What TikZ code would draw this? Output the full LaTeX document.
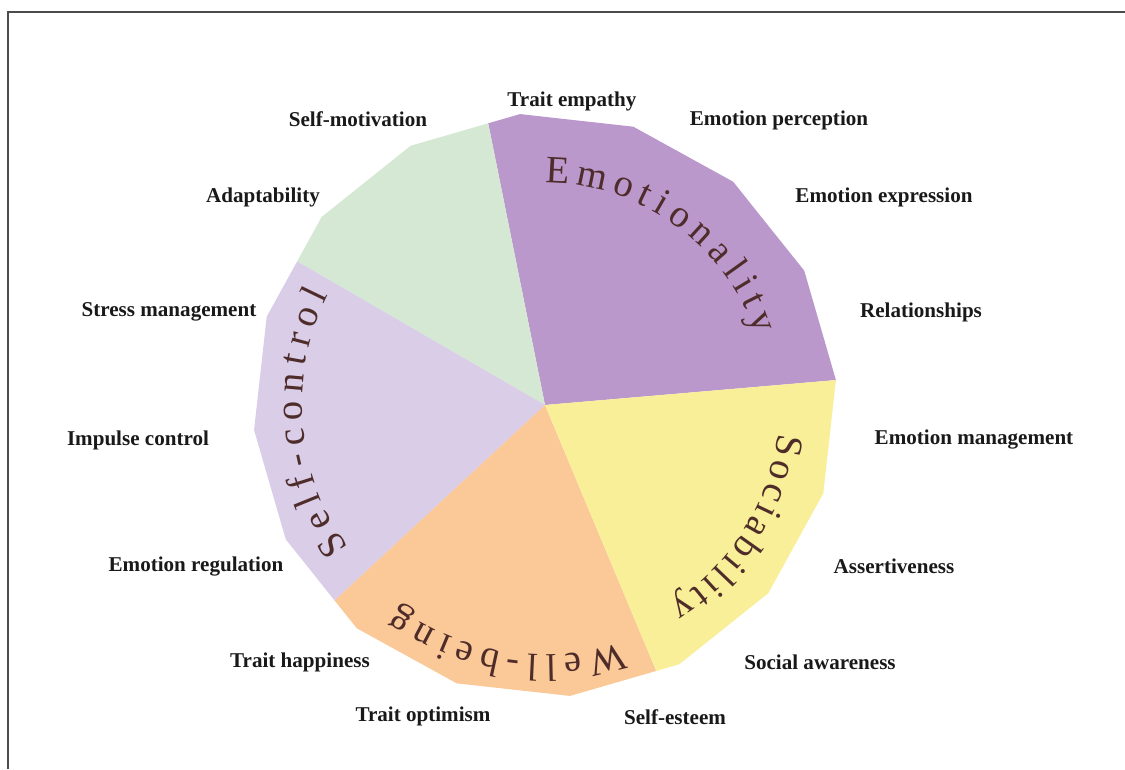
\documentclass[tikz,border=0pt]{standalone}
\usepackage{fontspec}
\setmainfont{Liberation Serif}
\usetikzlibrary{decorations.text}

\definecolor{emocol}{HTML}{BB98CC}
\definecolor{soccol}{HTML}{F8EF98}
\definecolor{wellcol}{HTML}{FBC898}
\definecolor{selfcol}{HTML}{D9CDE8}
\definecolor{motcol}{HTML}{D4E8D3}
\definecolor{factorcol}{HTML}{4E2C2A}

\tikzset{
  trait/.style={font=\fontsize{12}{12}\selectfont\bfseries, text=black!90, inner sep=0pt},
  factor/.style={decorate, decoration={text along path, text align=fit to path,
      text color=factorcol, text={|\fontsize{22}{22}\selectfont|#1}}},
}

\begin{document}
\begin{tikzpicture}[x=0.02cm, y=0.02cm]

  \useasboundingbox (-545,-364) rectangle (580,405);
  \draw[line width=1.2pt, black!70] (-537,-364) -- (-537,393) -- (580,393);

  % the five wedges, cut to the 16-gon
  \begin{scope}
    \clip (4.9:292) \foreach \k in {1,...,15} { -- ({4.9+22.5*\k}:292) } -- cycle;
    \fill[emocol]  (0,0) -- (4.9:400) arc[start angle=4.9, end angle=101.4, radius=400] -- cycle;
    \fill[motcol]  (0,0) -- (101.4:400) arc[start angle=101.4, end angle=149.9, radius=400] -- cycle;
    \fill[selfcol] (0,0) -- (149.9:400) arc[start angle=149.9, end angle=222.9, radius=400] -- cycle;
    \fill[wellcol] (0,0) -- (222.9:400) arc[start angle=222.9, end angle=292.7, radius=400] -- cycle;
    \fill[soccol]  (0,0) -- (-67.3:400) arc[start angle=-67.3, end angle=4.9, radius=400] -- cycle;
  \end{scope}

  \path[factor=Emotionality] (90:222) arc[start angle=90, end angle=18.5, radius=222];
  \path[factor=Sociability]  (-7:235) arc[start angle=-7, end angle=-58, radius=235];
  \path[factor=Well-being]   (-72:250) arc[start angle=-72, end angle=-126, radius=250];
  \path[factor=Self-control] (216:243) arc[start angle=216, end angle=153, radius=243];

  \node (TE) [trait] at (27,304)    {Trait empathy};
  \node (EP) [trait] at (234,285)   {Emotion perception};
  \node (EE) [trait] at (339,208)   {Emotion expression};
  \node (RE) [trait] at (376,93)    {Relationships};
  \node (EM) [trait] at (429,-35)   {Emotion management};
  \node (AS) [trait] at (349,-161)  {Assertiveness};
  \node (SA) [trait] at (275,-257)  {Social awareness};
  \node (SE) [trait] at (130,-312)  {Self-esteem};
  \node (TO) [trait] at (-122,-311) {Trait optimism};
  \node (TH) [trait] at (-245,-257) {Trait happiness};
  \node (ER) [trait] at (-349,-161) {Emotion regulation};
  \node (IC) [trait] at (-407,-35)  {Impulse control};
  \node (SM) [trait] at (-376,93)   {Stress management};
  \node (AD) [trait] at (-282,208)  {Adaptability};
  \node (MO) [trait] at (-187,286)  {Self-motivation};

\end{tikzpicture}
\end{document}
